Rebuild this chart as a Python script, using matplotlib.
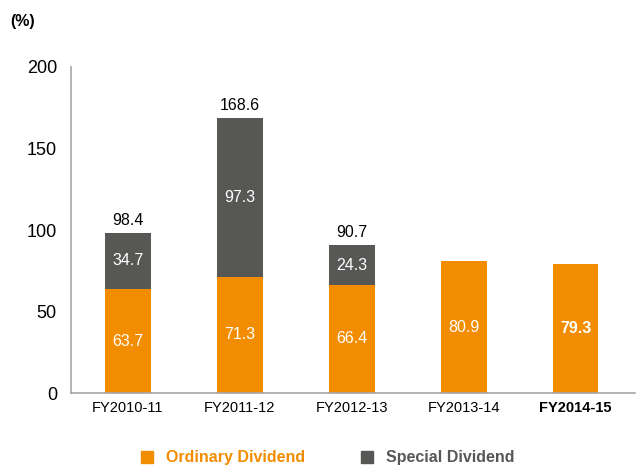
import numpy as np
import matplotlib
matplotlib.use("Agg")
import matplotlib.pyplot as plt
from matplotlib.lines import Line2D

plt.rcParams['font.family'] = ['Liberation Sans', 'DejaVu Sans']

# datos del gráfico
categorias = ["FY2010-11", "FY2011-12", "FY2012-13", "FY2013-14", "FY2014-15"]
ordinario = [63.7, 71.3, 66.4, 80.9, 79.3]
especial = [34.7, 97.3, 24.3, 0, 0]
totales = [98.4, 168.6, 90.7, None, None]

naranja = "#F28C00"
gris = "#575755"
gris_eje = "#A6A6A6"

fig = plt.figure(figsize=(6.38, 4.68), dpi=100)
ax = fig.add_axes([0.111, 0.160, 0.884, 0.697])

x = np.arange(len(categorias))
ancho = 0.41
ax.bar(x, ordinario, width=ancho, color=naranja, zorder=2)
ax.bar(x, especial, width=ancho, bottom=ordinario, color=gris, zorder=2)

# etiquetas dentro de las barras
for i in range(len(categorias)):
    peso = "bold" if i == len(categorias) - 1 else "normal"
    ax.text(x[i], ordinario[i] / 2, f"{ordinario[i]:.1f}", ha="center", va="center",
            color="white", fontsize=11.5, fontweight=peso)
    if especial[i] > 0:
        ax.text(x[i], ordinario[i] + especial[i] / 2, f"{especial[i]:.1f}", ha="center",
                va="center", color="white", fontsize=11.5)
    if totales[i] is not None:
        ax.text(x[i], totales[i] + 3, f"{totales[i]:.1f}", ha="center", va="bottom",
                color="black", fontsize=11.5)

ax.set_xlim(-0.51, 4.53)
ax.set_ylim(0, 200)
ax.set_yticks([0, 50, 100, 150, 200])
ax.tick_params(axis="y", length=0, labelsize=13, pad=10)
ax.tick_params(axis="x", length=0, labelsize=10.5, pad=6)
ax.set_xticks(x)
ax.set_xticklabels(categorias)
ax.get_xticklabels()[-1].set_fontweight("bold")

for lado in ["top", "right"]:
    ax.spines[lado].set_visible(False)
for lado in ["left", "bottom"]:
    ax.spines[lado].set_color(gris_eje)
    ax.spines[lado].set_linewidth(1.2)

fig.text(0.016, 0.955, "(%)", fontsize=11.5, fontweight="bold", va="center")

manejadores = [
    Line2D([], [], marker="s", linestyle="none", markersize=9, color=naranja),
    Line2D([], [], marker="s", linestyle="none", markersize=9, color=gris),
]
fig.legend(manejadores, ["Ordinary Dividend", "Special Dividend"], loc="center",
           bbox_to_anchor=(0.506, 0.022), ncol=2, frameon=False,
           prop={"size": 11.5, "weight": "bold"}, labelcolor=[naranja, gris],
           handletextpad=0.2, columnspacing=2.9)

fig.savefig("out.png", dpi=100)
